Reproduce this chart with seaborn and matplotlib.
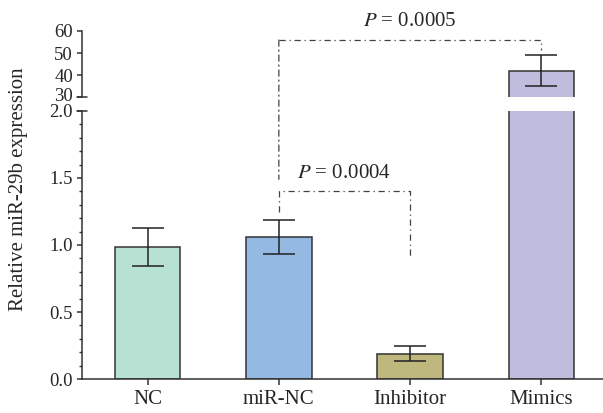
import numpy as np
import pandas as pd
import matplotlib
matplotlib.use("Agg")
import matplotlib.pyplot as plt
import matplotlib.transforms as mtransforms
from matplotlib.patches import ConnectionPatch
from matplotlib.ticker import MultipleLocator
import seaborn as sns

groups = ["NC", "miR-NC", "Inhibitor", "Mimics"]
means = [0.985, 1.06, 0.19, 42.0]
errs = [0.14, 0.125, 0.056, 7.2]
colors = ["#b7e1d3", "#94b9e3", "#beb77e", "#c0bcdd"]

lower_ticks = [0.0, 0.5, 1.0, 1.5, 2.0]
lower_labels = ["0.0", "0.5", "1.0", "1.5", "2.0"]
upper_ticks = [30, 40, 50, 60]
p_labels = ["$P$ = 0.0004", "$P$ = 0.0005"]

sns.set_style("ticks")
plt.rcParams["font.family"] = ["Liberation Serif", "DejaVu Serif"]
plt.rcParams["mathtext.fontset"] = "stix"
fs = 15
tfs = 13.5
dark = "#333333"

df = pd.DataFrame({"group": groups, "value": means})

fig = plt.figure(figsize=(6.03, 4.13), dpi=100)
ax_top = fig.add_axes([0.136, 0.765, 0.864, 0.160])
ax = fig.add_axes([0.136, 0.0823, 0.864, 0.649])

for a in (ax, ax_top):
    sns.barplot(data=df, x="group", y="value", hue="group", palette=colors,
                legend=False, width=0.5, saturation=1, edgecolor=dark,
                linewidth=1.1, ax=a)
    a.errorbar(range(len(groups)), means, yerr=errs, fmt="none", ecolor="#222222",
               elinewidth=1.1, capsize=11.5, capthick=1.1)
    a.set_xlim(-0.5, 3.47)
    a.set_xlabel("")
    a.set_ylabel("")
    for s in a.spines.values():
        s.set_color(dark)
        s.set_linewidth(1.1)
    a.spines["top"].set_visible(False)
    a.spines["right"].set_visible(False)

# lower axis
ax.set_ylim(0, 2.0)
ax.set_yticks(lower_ticks)
ax.set_yticklabels(lower_labels)
ax.yaxis.set_minor_locator(MultipleLocator(0.1))
ax.tick_params(axis="y", which="major", length=3.5, width=1.1, color=dark, labelsize=tfs, pad=3)
ax.tick_params(axis="y", which="minor", length=2, width=1.0, color=dark)
ax.tick_params(axis="x", length=4, width=1.1, color=dark, labelsize=fs, pad=4)

# upper axis
ax_top.set_ylim(30, 60)
ax_top.set_yticks(upper_ticks)
ax_top.spines["bottom"].set_visible(False)
ax_top.set_xticks([])
ax_top.tick_params(axis="y", length=3.5, width=1.1, color=dark, labelsize=tfs, pad=3)
lab30 = ax_top.get_yticklabels()[0]
lab30.set_transform(lab30.get_transform() +
                    mtransforms.ScaledTranslation(0, 1.5 / 72, fig.dpi_scale_trans))

# break caps
ax_top.plot([-0.009, 0.01], [30, 30], transform=ax_top.get_yaxis_transform(),
            color=dark, lw=1.1, clip_on=False)
ax.plot([-0.009, 0.01], [2.0, 2.0], transform=ax.get_yaxis_transform(),
        color=dark, lw=1.1, clip_on=False)

# significance brackets
ls = (0, (5, 3, 1, 3))
bc = "#444444"
ax.plot([1, 1, 2, 2], [1.245, 1.40, 1.40, 0.895], ls=ls, color=bc, lw=0.9)
ax.text(1.5, 1.53, p_labels[0], ha="center", va="center", fontsize=fs)

ax_top.plot([1, 3, 3], [55.9, 55.9, 51.4], ls=ls, color=bc, lw=0.9, clip_on=False)
con = ConnectionPatch(xyA=(1, 55.9), coordsA=ax_top.transData,
                      xyB=(1, 1.49), coordsB=ax.transData,
                      color=bc, lw=0.9, linestyle=ls)
fig.add_artist(con)
ax_top.text(2, 64.5, p_labels[1], ha="center", va="center", fontsize=fs, clip_on=False)

fig.text(0.03, 0.542, "Relative miR-29b expression", rotation=90,
         ha="center", va="center", fontsize=fs)

plt.savefig("out.png", dpi=100)
